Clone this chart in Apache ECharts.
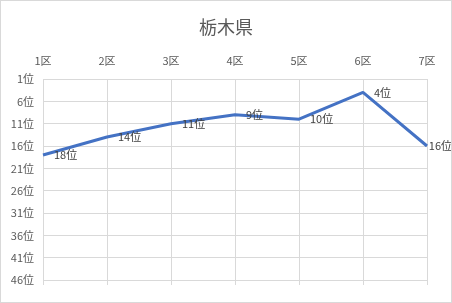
<!DOCTYPE html>
<html>
<head>
<meta charset="utf-8">
<script src="https://cdn.jsdelivr.net/npm/echarts@6/dist/echarts.min.js"></script>
<style>
html,body{margin:0;padding:0;background:#fff;}
#c{width:452px;height:303px;box-sizing:border-box;border:1px solid #d9d9d9;}
</style>
</head>
<body>
<div id="c"></div>
<script>
const title = '栃木県';
const categories = ['1区','2区','3区','4区','5区','6区','7区'];
const ranks = [18, 14, 11, 9, 10, 4, 16];
const rankMin = 1;
const rankMax = 46;
const rankStep = 5;

const FONT = '"Noto Sans CJK JP", "Noto Sans", sans-serif';
const chart = echarts.init(document.getElementById('c'), null, {renderer: 'canvas'});
const W = 451;

chart.setOption({
  animation: false,
  textStyle: {fontFamily: FONT},
  title: {
    text: title, left: 'center', top: 12,
    textStyle: {color: '#595959', fontSize: 18, fontWeight: 'normal', fontFamily: FONT}
  },
  grid: {left: 42, right: 24, top: 78, bottom: 22, containLabel: false},
  xAxis: [{
    type: 'category', position: 'top', data: categories, boundaryGap: false,
    axisLine: {show: false}, axisTick: {show: false},
    axisLabel: {color: '#595959', fontSize: 11, margin: 13, fontFamily: FONT},
    splitLine: {show: true, lineStyle: {color: '#d9d9d9', width: 1}}
  }, {
    type: 'category', position: 'bottom', data: categories, boundaryGap: false,
    axisLine: {show: false},
    axisTick: {show: true, length: 5, lineStyle: {color: '#d9d9d9'}},
    axisLabel: {show: false}, splitLine: {show: false}
  }],
  yAxis: {
    type: 'value', inverse: true, min: 0, max: rankMax - rankMin, interval: rankStep,
    axisLine: {show: false}, axisTick: {show: false},
    axisLabel: {color: '#595959', fontSize: 11, margin: 9, fontFamily: FONT,
      formatter: v => (v + rankMin) + '位'},
    splitLine: {show: true, lineStyle: {color: '#d9d9d9', width: 1}}
  },
  series: [{
    type: 'line', xAxisIndex: 0,
    data: ranks.map(r => r - rankMin),
    symbol: 'circle', symbolSize: 0, showSymbol: true,
    lineStyle: {color: '#4472C4', width: 3},
    itemStyle: {color: '#4472C4'},
    label: {
      show: true, position: 'right', distance: 11,
      color: '#404040', fontSize: 11, fontFamily: FONT,
      formatter: p => ranks[p.dataIndex] + '位'
    },
    labelLayout: function (params) {
      const r = params.labelRect;
      if (r.x + r.width > W) return {dx: W - (r.x + r.width)};
      return {};
    }
  }]
});
</script>
</body>
</html>
